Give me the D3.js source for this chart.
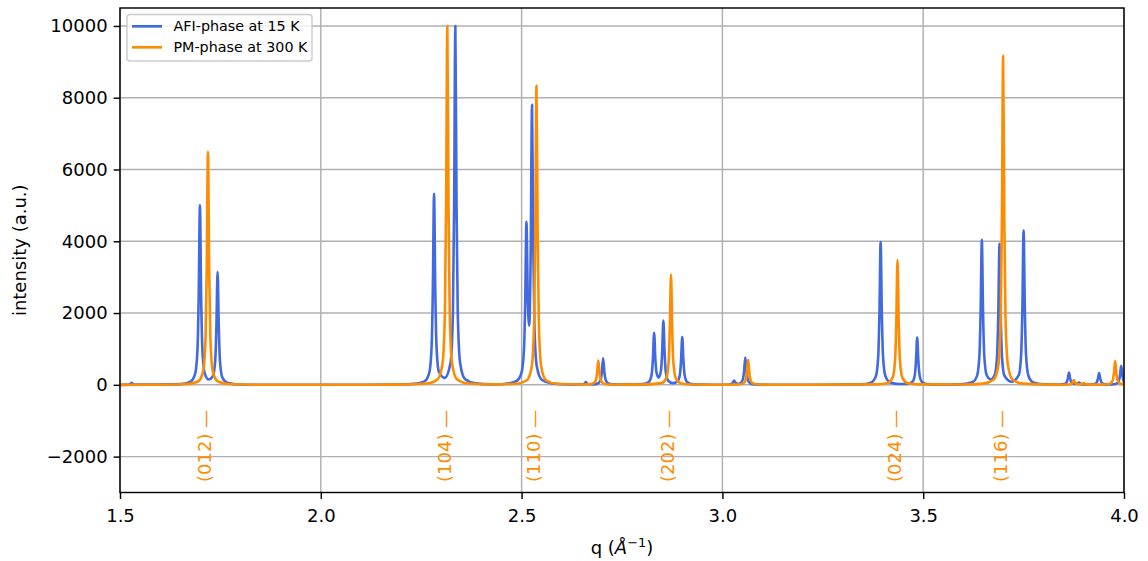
<!DOCTYPE html>
<html><head><meta charset="utf-8">
<script src="https://cdn.jsdelivr.net/npm/d3@7"></script>
<style>
html,body{margin:0;padding:0;background:#fff;}
svg text{font-family:"DejaVu Sans",sans-serif;}
</style></head>
<body><svg id="chart" width="1148" height="561"></svg>
<script>
// ---- data ----
const seriesNames = ["AFI-phase at 15 K", "PM-phase at 300 K"];
const seriesColors = ["#4169E1", "#FF8C00"];
const afiPoints = [
[1.500,0],[1.520,5],[1.526,25],[1.529,55],[1.532,25],[1.540,5],[1.600,6],
[1.650,20],[1.675,83],[1.687,304],[1.693,1010],[1.696,2510],[1.699,5000],[1.702,2510],[1.705,1020],[1.711,322],[1.721,148],[1.731,230],[1.737,661],[1.740,1600],[1.743,3150],[1.746,1600],[1.749,650],[1.755,200],[1.767,57],[1.793,11],[1.850,3],[2.000,1],[2.200,6],
[2.230,26],[2.258,97],[2.270,334],[2.276,1088],[2.279,2685],[2.282,5320],[2.285,2690],[2.288,1105],[2.294,366],[2.3085,194],[2.323,616],[2.329,2022],[2.332,5020],[2.335,10000],[2.338,5000],[2.341,2000],[2.347,600],[2.359,160],[2.385,40],[2.430,12],[2.470,45],
[2.488,112],[2.500,348],[2.506,1008],[2.509,2329],[2.512,4540],[2.5155,2354],[2.519,1650],[2.5225,3544],[2.526,7800],[2.529,3935],[2.532,1615],[2.538,503],[2.550,143],[2.576,36],[2.620,8],
[2.652,15],[2.657,35],[2.660,75],[2.663,35],[2.668,18],
[2.679,14],[2.691,45],[2.697,150],[2.700,370],[2.703,740],[2.706,370],[2.709,150],[2.715,45],[2.727,12],[2.780,8],
[2.806,29],[2.818,97],[2.824,300],[2.827,726],[2.830,1450],[2.833,726],[2.836,337],[2.8415,202],[2.847,395],[2.850,911],[2.853,1790],[2.856,911],[2.859,360],[2.865,114],[2.8765,49],[2.888,91],[2.894,275],[2.897,673],[2.900,1330],[2.903,665],[2.906,266],[2.912,78],[2.924,20],[2.950,5],
[3.000,3],[3.017,11],[3.023,30],[3.026,66],[3.029,120],[3.032,71],[3.038,31],[3.045,49],[3.051,154],[3.054,380],[3.057,760],[3.060,380],[3.063,152],[3.069,45],[3.081,12],[3.110,3],
[3.250,2],[3.344,14],[3.370,61],[3.382,235],[3.388,795],[3.391,1988],[3.394,3975],[3.397,1988],[3.400,795],[3.406,237],[3.418,64],[3.440,23],
[3.461,28],[3.473,84],[3.479,269],[3.482,659],[3.485,1318],[3.488,659],[3.491,264],[3.497,78],[3.509,20],[3.540,5],
[3.590,12],[3.622,70],[3.634,249],[3.640,820],[3.643,2033],[3.646,4040],[3.649,2035],[3.652,832],[3.658,272],[3.668,152],[3.678,274],[3.684,822],[3.687,2000],[3.690,3930],[3.693,2000],[3.696,813],[3.702,260],[3.720,88],[3.738,268],[3.744,872],[3.747,2160],[3.750,4300],[3.753,2150],[3.756,860],[3.762,253],[3.774,66],[3.800,15],
[3.840,8],[3.851,22],[3.857,68],[3.860,170],[3.863,340],[3.866,170],[3.869,70],[3.875,23],[3.884,31],[3.888,62],[3.892,31],[3.900,10],[3.914,10],[3.926,19],[3.932,66],[3.935,165],[3.938,330],[3.941,165],[3.944,66],[3.950,19],[3.962,10],[3.975,16],[3.981,33],[3.987,106],[3.990,265],[3.993,530],[3.996,265],[3.999,106],[4.005,31],[4.020,8]
];
const pmPoints = [
[1.500,0],[1.600,4],[1.669,23],[1.695,100],[1.707,383],[1.713,1298],[1.716,3245],[1.719,6490],[1.722,3245],[1.725,1298],[1.731,383],[1.743,100],[1.769,23],[1.850,3],[2.000,1],[2.200,6],
[2.265,36],[2.291,154],[2.303,588],[2.309,2000],[2.312,5000],[2.315,10000],[2.318,5000],[2.321,2000],[2.327,588],[2.339,154],[2.365,39],[2.440,14],
[2.487,31],[2.513,128],[2.525,491],[2.531,1666],[2.534,4165],[2.537,8330],[2.540,4165],[2.543,1666],[2.549,491],[2.561,128],[2.587,30],[2.650,10],
[2.667,14],[2.679,43],[2.685,136],[2.688,340],[2.691,680],[2.694,340],[2.697,136],[2.703,40],[2.715,11],[2.800,5],
[2.848,47],[2.860,181],[2.866,615],[2.869,1538],[2.872,3075],[2.875,1538],[2.878,615],[2.884,181],[2.896,47],[2.922,11],[2.990,3],
[3.040,11],[3.052,41],[3.058,140],[3.061,350],[3.064,700],[3.067,350],[3.070,140],[3.076,41],[3.088,11],[3.150,2],
[3.386,13],[3.412,54],[3.424,205],[3.430,696],[3.433,1740],[3.436,3480],[3.439,1740],[3.442,696],[3.448,205],[3.460,54],[3.486,13],[3.600,8],
[3.649,33],[3.675,141],[3.687,541],[3.693,1833],[3.696,4583],[3.699,9165],[3.702,4583],[3.705,1833],[3.711,541],[3.723,141],[3.749,33],[3.800,8],
[3.850,4],[3.863,8],[3.869,26],[3.872,65],[3.875,130],[3.878,65],[3.881,28],[3.887,12],[3.894,12],[3.897,25],[3.900,50],[3.903,25],[3.910,8],[3.930,5],
[3.954,10],[3.966,39],[3.972,132],[3.975,330],[3.978,660],[3.981,330],[3.984,132],[3.990,39],[4.002,10],[4.020,5]
];
const reflLabels = ["(012)", "(104)", "(110)", "(202)", "(024)", "(116)"];
const reflQ = [1.719, 2.315, 2.537, 2.872, 3.436, 3.699];
const xTicks = [1.5, 2.0, 2.5, 3.0, 3.5, 4.0];
const yTicks = [-2000, 0, 2000, 4000, 6000, 8000, 10000];
const xDomain = [1.5, 4.0];
const yDomain = [-3000, 10500];

// ---- layout ----
const svg = d3.select("#chart");
const L = 120, R = 1124, T = 8, B = 492.5;
const x = d3.scaleLinear().domain(xDomain).range([L, R]);
const y = d3.scaleLinear().domain(yDomain).range([B, T]);
const fmtY = d => d < 0 ? "\u2212" + Math.abs(d) : String(d);

svg.append("defs").append("clipPath").attr("id","clip")
  .append("rect").attr("x",L).attr("y",T).attr("width",R-L).attr("height",B-T);

// grid
const grid = svg.append("g");
grid.selectAll(".gx").data(xTicks).join("line")
  .attr("x1",d=>x(d)).attr("x2",d=>x(d)).attr("y1",T).attr("y2",B)
  .attr("stroke","#b0b0b0").attr("stroke-width",1.45);
grid.selectAll(".gy").data(yTicks).join("line")
  .attr("y1",d=>y(d)).attr("y2",d=>y(d)).attr("x1",L).attr("x2",R)
  .attr("stroke","#b0b0b0").attr("stroke-width",1.45);

// lines
const line = d3.line().curve(d3.curveMonotoneX).x(d=>x(d[0])).y(d=>y(d[1]));
const plot = svg.append("g").attr("clip-path","url(#clip)");
[afiPoints, pmPoints].forEach((pts,i)=>{
  plot.append("path").datum(pts).attr("d",line)
    .attr("fill","none").attr("stroke",seriesColors[i])
    .attr("stroke-width",2.6).attr("stroke-linejoin","round").attr("stroke-linecap","butt");
});

// reflection labels
svg.append("g").selectAll("text").data(reflLabels).join("text")
  .attr("transform",(d,i)=>`translate(${x(reflQ[i])-3},482) rotate(-90)`)
  .attr("dy","0.36em").attr("text-anchor","start")
  .attr("fill","#FF8C00").style("font-size","18px")
  .text(d=>d + " \u2014");

// axes
const xAxis = d3.axisBottom(x).tickValues(xTicks).tickFormat(d3.format(".1f")).tickSize(6.4).tickPadding(6);
const yAxis = d3.axisLeft(y).tickValues(yTicks).tickFormat(fmtY).tickSize(6.4).tickPadding(6);
const gx = svg.append("g").attr("transform",`translate(0,${B})`).call(xAxis);
const gy = svg.append("g").attr("transform",`translate(${L},0)`).call(yAxis);
[gx,gy].forEach(g=>{
  g.select(".domain").remove();
  g.selectAll(".tick line").attr("stroke","#000").attr("stroke-width",1.45);
  g.selectAll(".tick text").attr("fill","#000").style("font-size","18px").style("font-family","DejaVu Sans");
});
gx.selectAll(".tick text").attr("dy","0.95em");

// spines
svg.append("rect").attr("x",L).attr("y",T).attr("width",R-L).attr("height",B-T)
  .attr("fill","none").attr("stroke","#000").attr("stroke-width",1.45);

// axis labels
const xl = svg.append("text").attr("x",(L+R)/2).attr("y",554).attr("text-anchor","middle")
  .style("font-size","18px").attr("fill","#000");
xl.append("tspan").text("q (");
xl.append("tspan").style("font-style","italic").text("\u00C5");
xl.append("tspan").attr("dy","-7").style("font-size","13px").text("\u22121");
xl.append("tspan").attr("dy","7").text(")");
svg.append("text").attr("transform",`translate(26,${(T+B)/2}) rotate(-90)`)
  .attr("text-anchor","middle").style("font-size","18px").attr("fill","#000")
  .text("intensity (a.u.)");

// legend
const lg = svg.append("g");
lg.append("rect").attr("x",127).attr("y",14.5).attr("width",185).attr("height",46.5)
  .attr("rx",3).attr("fill","#fff").attr("fill-opacity",0.8)
  .attr("stroke","#cccccc").attr("stroke-width",1.45);
seriesNames.forEach((n,i)=>{
  const yy = 26.3 + i*21;
  lg.append("line").attr("x1",132).attr("x2",162).attr("y1",yy).attr("y2",yy)
    .attr("stroke",seriesColors[i]).attr("stroke-width",2.7);
  lg.append("text").attr("x",173.5).attr("y",yy).attr("dy","0.36em")
    .style("font-size","14.3px").attr("fill","#000").text(n);
});
</script></body></html>
